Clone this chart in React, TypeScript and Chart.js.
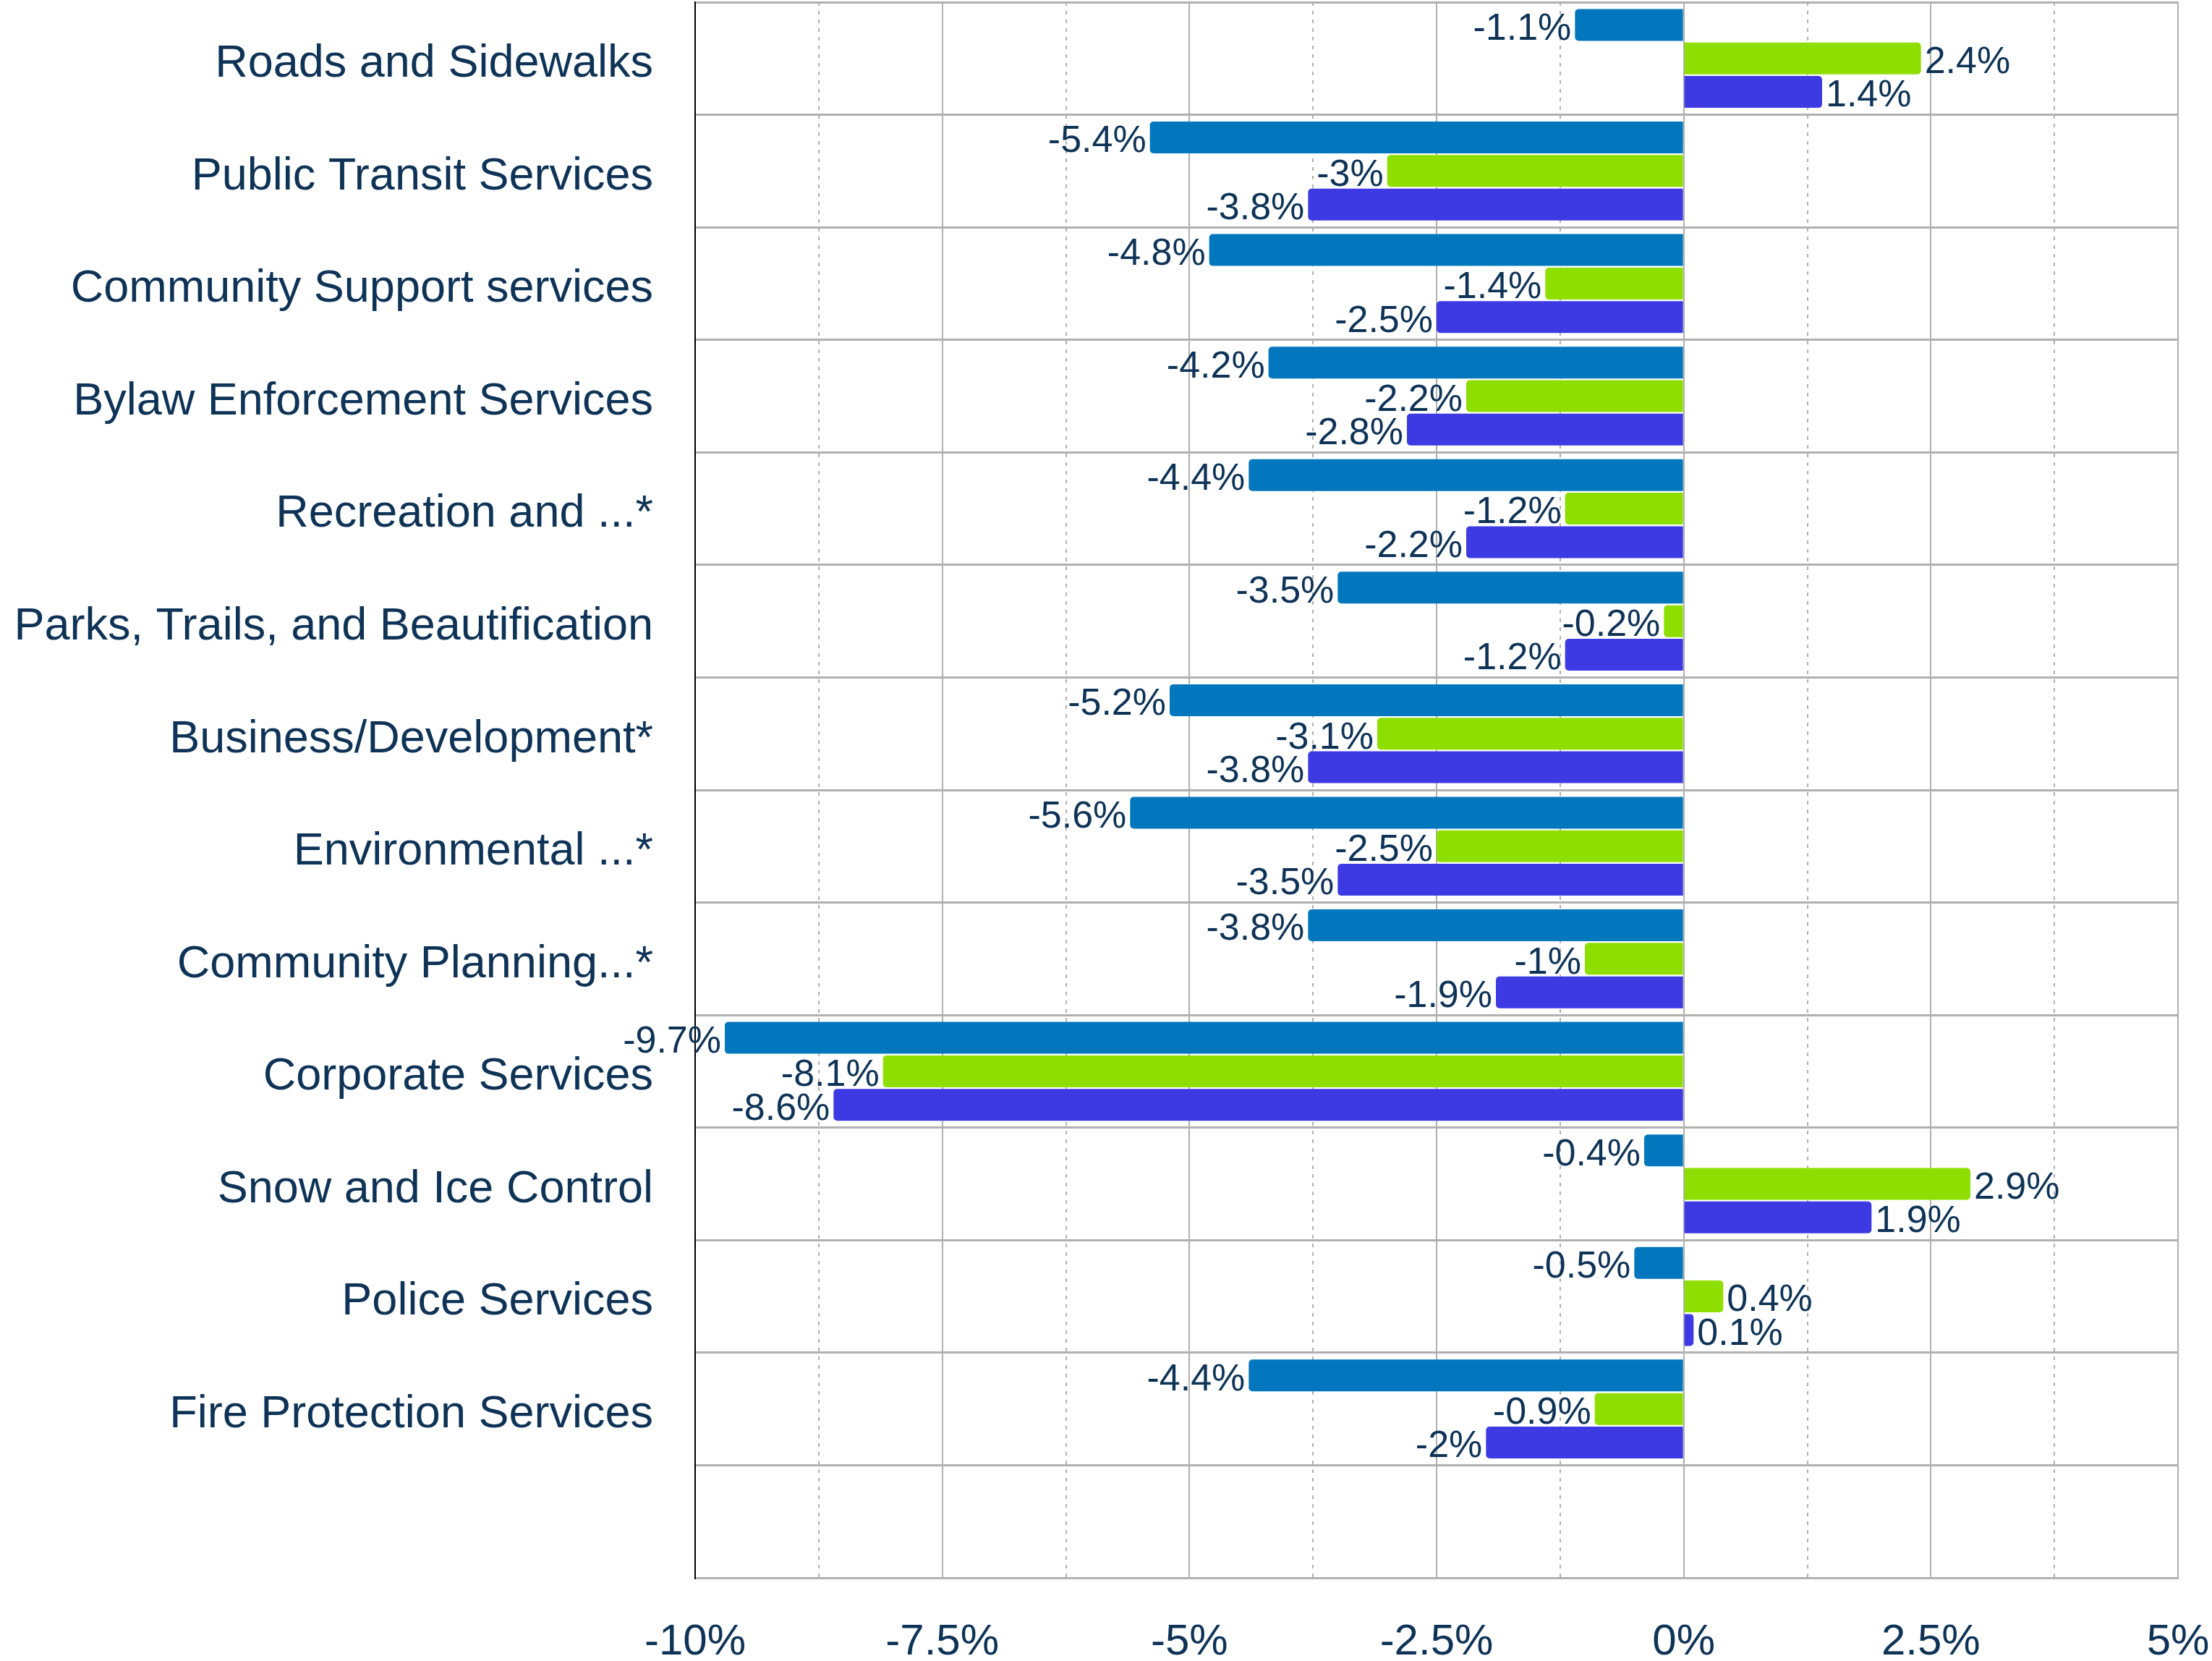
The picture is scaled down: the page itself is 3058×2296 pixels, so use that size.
import React, { useEffect, useRef } from "react";
import { Chart, registerables } from "chart.js";

Chart.register(...registerables);

const categories = [
  "Roads and Sidewalks",
  "Public Transit Services",
  "Community Support services",
  "Bylaw Enforcement Services",
  "Recreation and ...*",
  "Parks, Trails, and Beautification",
  "Business/Development*",
  "Environmental ...*",
  "Community Planning...*",
  "Corporate Services",
  "Snow and Ice Control",
  "Police Services",
  "Fire Protection Services",
  "",
];

const seriesNames = ["Series 1", "Series 2", "Series 3"];

const seriesBlue = [-1.1, -5.4, -4.8, -4.2, -4.4, -3.5, -5.2, -5.6, -3.8, -9.7, -0.4, -0.5, -4.4];
const seriesGreen = [2.4, -3, -1.4, -2.2, -1.2, -0.2, -3.1, -2.5, -1, -8.1, 2.9, 0.4, -0.9];
const seriesPurple = [1.4, -3.8, -2.5, -2.8, -2.2, -1.2, -3.8, -3.5, -1.9, -8.6, 1.9, 0.1, -2];

const xMin = -10;
const xMax = 5;
const xStep = 1.25;
const xLabelEvery = 2.5;

const NAVY = "#0E3356";
const GRID = "#B0B0B0";
const FONT = '"Liberation Sans", Arial, sans-serif';
const COLORS = ["#0277BD", "#8EDF00", "#3D3AE3"];

const isMajor = (v: number) => {
  const r = v / xLabelEvery;
  return Math.abs(r - Math.round(r)) < 1e-6;
};

const valueLabels = {
  id: "valueLabels",
  afterDatasetsDraw(chart: any) {
    const ctx = chart.ctx;
    ctx.save();
    ctx.font = `52px ${FONT}`;
    ctx.fillStyle = NAVY;
    ctx.textBaseline = "middle";
    chart.data.datasets.forEach((ds: any, di: number) => {
      const meta = chart.getDatasetMeta(di);
      meta.data.forEach((el: any, i: number) => {
        const v = ds.data[i];
        if (v === null || v === undefined) return;
        const neg = v < 0;
        ctx.textAlign = neg ? "right" : "left";
        ctx.fillText(`${v}%`, neg ? el.x - 5 : el.x + 5, el.y + 6);
      });
    });
    ctx.restore();
  },
};

export default function App() {
  const ref = useRef<HTMLCanvasElement | null>(null);

  useEffect(() => {
    document.body.style.margin = "0";
    const canvas = ref.current;
    if (!canvas) return;
    const seriesData = [seriesBlue, seriesGreen, seriesPurple];
    const chart = new Chart(canvas, {
      type: "bar",
      data: {
        labels: categories,
        datasets: seriesData.map((d, i) => ({
          label: seriesNames[i],
          data: d,
          backgroundColor: COLORS[i],
          borderWidth: 0,
          borderRadius: 5,
          borderSkipped: "start",
          categoryPercentage: 0.893,
          barPercentage: 0.95,
        })),
      },
      options: {
        indexAxis: "y",
        responsive: false,
        animation: false,
        devicePixelRatio: 1,
        layout: { padding: { top: 3, right: 47, bottom: 0, left: 0 } },
        plugins: {
          legend: { display: false },
          tooltip: { enabled: false },
        },
        scales: {
          x: {
            type: "linear",
            min: xMin,
            max: xMax,
            afterFit: (s: any) => {
              s.height = 115;
              s.paddingLeft = 0;
              s.paddingRight = 0;
            },
            ticks: {
              stepSize: xStep,
              autoSkip: false,
              maxRotation: 0,
              padding: 53,
              color: NAVY,
              font: { family: FONT, size: 60 },
              callback: (v: any) => (isMajor(Number(v)) ? `${Number(v)}%` : ""),
            },
            grid: {
              color: GRID,
              lineWidth: 2,
              drawTicks: false,
            },
            border: {
              color: GRID,
              width: 3,
              dash: (c: any) =>
                c && c.tick && !isMajor(c.tick.value) ? [5, 7] : [],
            },
          },
          y: {
            afterFit: (s: any) => {
              s.width = 961;
              s.paddingTop = 0;
              s.paddingBottom = 0;
            },
            ticks: {
              autoSkip: false,
              padding: 58,
              labelOffset: 8,
              color: NAVY,
              font: { family: FONT, size: 63 },
            },
            grid: {
              color: GRID,
              lineWidth: 3,
              drawTicks: false,
              offset: true,
            },
            border: { color: "#000000", width: 2 },
          },
        },
      },
      plugins: [valueLabels],
    } as any);
    return () => chart.destroy();
  }, []);

  return (
    <canvas
      ref={ref}
      width={3058}
      height={2296}
      style={{ display: "block", width: 3058, height: 2296 }}
    />
  );
}
